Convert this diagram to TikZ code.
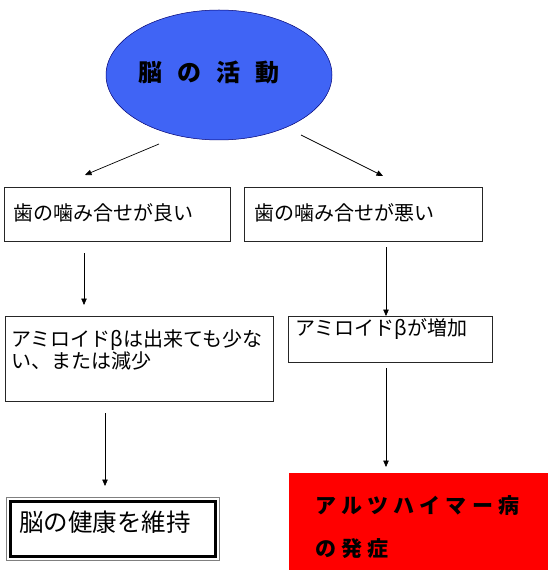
\documentclass[tikz,border=0pt]{standalone}
\usepackage{fontspec}
\usetikzlibrary{arrows.meta,shapes.geometric}
\newfontfamily\jp{Noto Sans CJK JP}
\newfontfamily\jpwide[LetterSpace=25]{Noto Sans CJK JP}
\definecolor{ellblue}{RGB}{64,100,245}
\tikzset{
  box/.style={draw=black!85, line width=0.9pt, fill=white, inner sep=0pt, anchor=north west},
  lbl/.style={inner sep=0pt, anchor=west, align=left, font=\jp\fontsize{20}{22}\selectfont},
  arr/.style={-{Triangle[length=6.5pt,width=5.5pt]}, line width=0.7pt},
}
\begin{document}
\begin{tikzpicture}[x=1pt,y=-1pt]
\useasboundingbox (0,0) rectangle (555,577);
% top ellipse
\node[ellipse, fill=ellblue, draw=blue!45!black, line width=0.5pt,
      minimum width=226pt, minimum height=130pt, inner sep=0pt] (brain) at (219,75) {};
\node[inner sep=0pt, font=\jp\bfseries\fontsize{24}{28}\selectfont] (brainlbl) at (209,72)
  {\spaceskip=15pt\relax 脳 の 活 動};
% boxes
\node[box, minimum width=226pt, minimum height=54pt] (b1) at (4,187) {};
\node[box, minimum width=238pt, minimum height=54pt] (b2) at (244,187) {};
\node[box, minimum width=268pt, minimum height=85pt] (b3) at (5,316) {};
\node[box, minimum width=204pt, minimum height=46pt] (b4) at (288,316) {};
\node[box, draw=black, line width=3.8pt, minimum width=205pt, minimum height=55pt] (b5) at (8.5,499.5) {};
\draw[gray, line width=0.9pt] ([shift={(-2.1,-2.1)}]b5.north west) rectangle ([shift={(2.1,2.1)}]b5.south east);
\node[fill=red, inner sep=0pt, anchor=north west, minimum width=259pt, minimum height=97pt] (b6) at (289,473) {};
% labels
\node[lbl] (l1) at (13,213) {歯の噛み合せが良い};
\node[lbl] (l2) at (254,213) {歯の噛み合せが悪い};
\node[lbl] (l3) at (11,350) {アミロイドβは出来ても少な\\い、または減少};
\node[lbl] (l4) at (295,329) {アミロイドβが増加};
\node[lbl, font=\jp\fontsize{24.5}{28}\selectfont] (l5) at (19,522) {脳の健康を維持};
\node[lbl, font=\jpwide\bfseries\fontsize{21}{24}\selectfont] (l6a) at (315,506) {アルツハイマー病};
\node[lbl, font=\jpwide\bfseries\fontsize{21}{24}\selectfont] (l6b) at (315,549) {の発症};
% connectors
\coordinate (a1s) at (159,144); \coordinate (a1e) at (85,175);
\coordinate (a2s) at (301,135); \coordinate (a2e) at (383,176);
\coordinate (a3s) at (84,253);  \coordinate (a3e) at (84,305);
\coordinate (a4s) at (386,247);
\coordinate (a5s) at (105,413); \coordinate (a5e) at (105,486);
\coordinate (a6s) at (386,368); \coordinate (a6e) at (386,467);
\draw[arr] (a1s) -- (a1e);
\draw[arr] (a2s) -- (a2e);
\draw[arr] (a3s) -- (a3e);
\draw[arr] (a4s) -- (a4s |- b4.north);
\draw[arr] (a5s) -- (a5e);
\draw[arr] (a6s) -- (a6e);
\end{tikzpicture}
\end{document}
